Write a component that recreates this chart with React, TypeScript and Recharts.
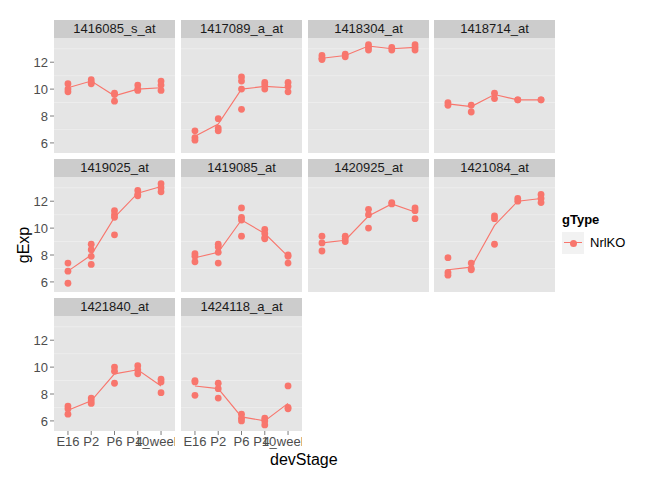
import { CartesianGrid, ComposedChart, Line, ReferenceLine, Scatter, XAxis, YAxis } from "recharts";

const stages = ["E16", "P2", "P6", "P10", "4_weeks"];
const probes = [
  "1416085_s_at", "1417089_a_at", "1418304_at", "1418714_at",
  "1419025_at", "1419085_at", "1420925_at", "1421084_at",
  "1421840_at", "1424118_a_at",
];

// gExp readings per probe, one array per devStage
const readings: number[][][] = [
  [[10.4, 10.0, 9.8], [10.7, 10.5, 10.4], [9.6, 9.7, 9.1], [10.3, 10.0, 9.9], [10.6, 10.3, 9.9]],
  [[6.9, 6.4, 6.2], [7.8, 7.1, 6.9], [10.9, 10.6, 10.0, 8.5], [10.5, 10.3, 10.0], [10.5, 10.2, 9.8]],
  [[12.5, 12.3, 12.2], [12.6, 12.4], [13.3, 13.1, 12.9], [13.1, 12.9], [13.3, 13.1, 12.9]],
  [[9.0, 8.8], [8.8, 8.3], [9.7, 9.3], [9.2, 9.2], [9.2, 9.2]],
  [[7.4, 6.8, 5.9], [8.8, 8.4, 7.9, 7.3], [11.3, 11.0, 10.8, 9.5], [12.8, 12.5, 12.4], [13.3, 13.0, 12.7]],
  [[8.1, 7.9, 7.5], [8.8, 8.6, 8.2, 7.4], [11.5, 10.8, 10.6, 9.4], [9.9, 9.6, 9.3, 9.2], [8.0, 7.9, 7.4]],
  [[9.4, 8.9, 8.3], [9.4, 9.2, 9.0], [11.4, 11.0, 10.0], [11.9, 11.8], [11.5, 11.3, 10.7]],
  [[7.8, 6.7, 6.5], [7.4, 7.0, 6.9], [10.9, 10.7, 8.8], [12.2, 12.0], [12.5, 12.2, 11.9]],
  [[7.1, 6.9, 6.5], [7.7, 7.5, 7.3], [10.0, 9.7, 8.8], [10.1, 9.8, 9.5], [9.1, 8.9, 8.1]],
  [[9.0, 8.9, 7.9], [8.8, 8.4, 7.7], [6.5, 6.2, 6.0], [6.2, 6.0, 5.7], [8.6, 7.0, 6.9]],
];
// mean line per probe
const means = [
  [10.1, 10.6, 9.5, 10.0, 10.1],
  [6.5, 7.4, 10.0, 10.2, 10.1],
  [12.3, 12.5, 13.2, 13.0, 13.1],
  [8.9, 8.7, 9.6, 9.2, 9.2],
  [6.8, 8.0, 10.8, 12.6, 13.1],
  [7.8, 8.2, 10.6, 9.6, 7.9],
  [8.9, 9.1, 10.9, 11.8, 11.2],
  [6.9, 7.1, 10.2, 12.0, 12.2],
  [6.8, 7.5, 9.5, 9.8, 8.6],
  [8.6, 8.4, 6.3, 6.0, 7.3],
];
const yTicks = [6, 8, 10, 12];
const yMinor = [7, 9, 11, 13];

const RED = "#F8766D";
const colX = [54, 181, 308, 434];
const rowTop = [20, 159, 298];
const PW = 121;
const PH = 115;
const STRIP = 18;
const YW = 30;
const XH = 22;

function Panel({ i }: { i: number }) {
  const col = i % 4;
  const row = Math.floor(i / 4);
  const showY = col === 0;
  const showX = row === 2;
  const pts = readings[i].flatMap((vals, s) => vals.map((v) => ({ x: s, y: v })));
  const line = means[i].map((v, s) => ({ x: s, y: v }));
  const w = PW + (showY ? YW : 0);
  const h = PH + (showX ? XH : 0);
  return (
    <div style={{ position: "absolute", left: colX[col] - (showY ? YW : 0), top: rowTop[row] }}>
      <div
        style={{
          marginLeft: showY ? YW : 0, width: PW, height: STRIP, background: "#cccccc",
          fontSize: 13, lineHeight: `${STRIP}px`, textAlign: "center", color: "#1a1a1a",
        }}
      >
        {probes[i]}
      </div>
      <ComposedChart width={w} height={h} margin={{ top: 0, right: 0, bottom: 0, left: 0 }} style={{ overflow: "visible" }}>
        <rect x={showY ? YW : 0} y={0} width={PW} height={PH} fill="#e5e5e5" />
        {yMinor.map((m) => (
          <ReferenceLine key={m} y={m} stroke="#f2f2f2" strokeWidth={0.6} />
        ))}
        <CartesianGrid stroke="#ffffff" strokeWidth={1.1} horizontalValues={yTicks} verticalValues={[0, 1, 2, 3, 4]} />
        <XAxis
          dataKey="x" type="number" domain={[-0.6, 4.6]} ticks={[0, 1, 2, 3, 4]} interval={0}
          tickFormatter={(v) => stages[v]} hide={!showX} height={XH} axisLine={false}
          tick={{ fontSize: 13, fill: "#4d4d4d" }} tickLine={{ stroke: "#7f7f7f" }} tickSize={4}
        />
        <YAxis
          dataKey="y" type="number" domain={[5.25, 13.8]} ticks={yTicks} hide={!showY} width={YW}
          axisLine={false} tick={{ fontSize: 13, fill: "#4d4d4d" }} tickLine={{ stroke: "#7f7f7f" }} tickSize={4}
        />
        <Line data={line} dataKey="y" stroke={RED} strokeWidth={1.1} dot={false} isAnimationActive={false} />
        <Scatter data={pts} dataKey="y" fill={RED} shape={(p: any) => <circle cx={p.cx} cy={p.cy} r={3.4} fill={RED} />} isAnimationActive={false} />
      </ComposedChart>
    </div>
  );
}

export default function App() {
  return (
    <div style={{ position: "relative", width: 672, height: 480, margin: -8, fontFamily: "Liberation Sans, Arial, sans-serif", background: "#fff" }}>
      {probes.map((_, i) => (
        <Panel key={i} i={i} />
      ))}
      <div style={{ position: "absolute", left: 6, top: 236, transform: "rotate(-90deg)", fontSize: 16 }}>gExp</div>
      <div style={{ position: "absolute", left: 270, top: 451, fontSize: 16 }}>devStage</div>
      <div style={{ position: "absolute", left: 562, top: 212, fontSize: 13, fontWeight: "bold" }}>gType</div>
      <div style={{ position: "absolute", left: 562, top: 232, width: 22, height: 22, background: "#f2f2f2" }}>
        <div style={{ position: "absolute", left: 2, top: 10, width: 18, height: 1.2, background: RED }} />
        <div style={{ position: "absolute", left: 7.5, top: 7.5, width: 7, height: 7, borderRadius: 4, background: RED }} />
      </div>
      <div style={{ position: "absolute", left: 590, top: 235, fontSize: 13 }}>NrlKO</div>
    </div>
  );
}
